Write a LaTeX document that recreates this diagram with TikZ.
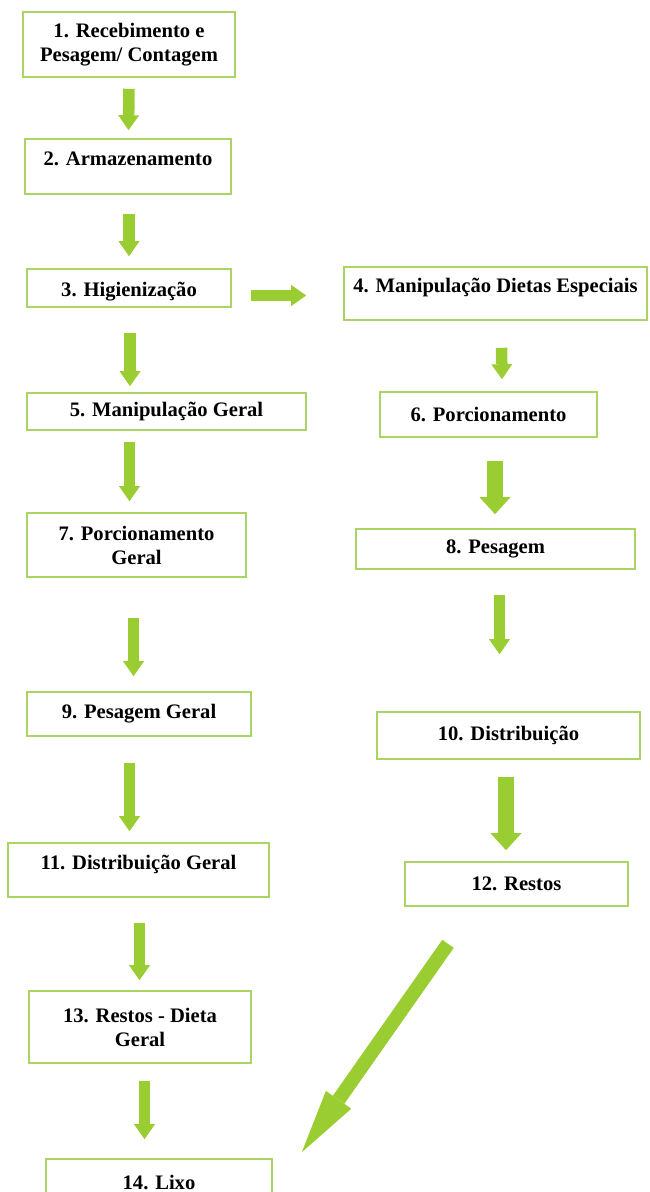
\documentclass[tikz,border=0pt]{standalone}
\usepackage{fontspec}
\setmainfont{Liberation Serif}
\usetikzlibrary{arrows.meta,calc}
\definecolor{arrowgreen}{RGB}{154,205,50}
\definecolor{boxgreen}{RGB}{170,213,100}

\begin{document}
\begin{tikzpicture}[x=0.5pt, y=-0.5pt]
    \tikzstyle{stage} = [rectangle, draw=boxgreen, line width=0.8pt, fill=white, inner sep=0pt, align=center, font=\fontsize{10.3}{12}\selectfont\bfseries]
    \tikzstyle{raised} = [text depth=8pt]
    \tikzstyle{lowered} = [text height=11pt]
    \tikzstyle{flow} = [draw=arrowgreen, line width=5.75pt, -{Triangle[width=10.5pt, length=7.5pt, line width=0pt]}]
    \tikzstyle{flowwide} = [draw=arrowgreen, line width=8pt, -{Triangle[width=15.5pt, length=8.5pt, line width=0pt]}]
    \tikzstyle{flowdiag} = [draw=arrowgreen, line width=7pt, -{Triangle[width=15.5pt, length=32pt, line width=0pt]}]

    \useasboundingbox (0,0) rectangle (649,1192);

    % Left column: general diet
    \node [stage, minimum width=106pt, minimum height=32.5pt] (receb) at (129,44.5) {1. Recebimento e\\Pesagem/ Contagem};
    \node [stage, raised, minimum width=103pt, minimum height=27.5pt] (armaz) at (128,166.5) {2. Armazenamento};
    \node [stage, lowered, minimum width=102pt, minimum height=19pt] (higien) at (129,288) {3. Higienização};
    \node [stage, minimum width=139.5pt, minimum height=18.5pt] (manger) at (166.5,411.5) {5. Manipulação Geral};
    \node [stage, minimum width=109.5pt, minimum height=32pt] (porger) at (136.5,545) {7. Porcionamento\\Geral};
    \node [stage, minimum width=112pt, minimum height=22pt] (pesger) at (139,714) {9. Pesagem Geral};
    \node [stage, raised, minimum width=130.5pt, minimum height=27pt] (distger) at (138.5,870) {11. Distribuição Geral};
    \node [stage, minimum width=111pt, minimum height=36pt] (restger) at (140,1027) {13. Restos - Dieta\\Geral};
    \node [stage, minimum width=113pt, minimum height=23pt] (lixo) at (159,1182) {14. Lixo};

    % Right column: special diets
    \node [stage, raised, minimum width=151.5pt, minimum height=26.5pt] (manesp) at (495.5,293.5) {4. Manipulação Dietas Especiais};
    \node [stage, minimum width=108.5pt, minimum height=22.5pt] (poresp) at (488.5,414.5) {6. Porcionamento};
    \node [stage, minimum width=139.5pt, minimum height=20pt] (pesesp) at (495.5,549) {8. Pesagem};
    \node [stage, minimum width=131.5pt, minimum height=23.5pt] (distesp) at (508.5,735.5) {10. Distribuição};
    \node [stage, minimum width=111.5pt, minimum height=22pt] (restesp) at (516.5,884) {12. Restos};

    % Arrows
    \draw [flow] ($(receb.south)+(0,11)$) -- ($(armaz.north)+(0.5,-8)$);
    \draw [flow] ($(armaz.south)+(1,19)$) -- ($(higien.north)+(0,-12)$);
    \draw [flow] ($(higien.east)+(19,7.5)$) -- ($(manesp.west)+(-37,2)$);
    \draw [flow] ($(higien.south)+(1,25)$) -- ($(manger.north)+(-36.5,-6)$);
    \draw [flow] ($(manesp.south)+(6,27)$) -- ($(poresp.north)+(13.5,-12)$);
    \draw [flow] ($(manger.south)+(-37,11)$) -- ($(porger.north)+(-7,-11)$);
    \draw [flowwide] ($(poresp.south)+(6.5,23)$) -- ($(pesesp.north)+(-0.5,-14)$);
    \draw [flow] ($(porger.south)+(-3,40)$) -- ($(pesger.north)+(-5.5,-15)$);
    \draw [flow] ($(pesesp.south)+(4,25)$) -- ($(distesp.north)+(-9,-57)$);
    \draw [flow] ($(pesger.south)+(-9.5,26)$) -- ($(distger.north)+(-9,-11)$);
    \draw [flowwide] ($(distesp.south)+(-2.5,17)$) -- ($(restesp.north)+(-10.5,-11)$);
    \draw [flow] ($(distger.south)+(1,25)$) -- ($(restger.north)+(-0.5,-10)$);
    \draw [flow] ($(restger.south)+(4.5,17)$) -- ($(lixo.north)+(-14.5,-19)$);
    \draw [flowdiag] ($(restesp.south)+(-68.5,37)$) -- ($(lixo.north east)+(29,-6)$);
\end{tikzpicture}
\end{document}
